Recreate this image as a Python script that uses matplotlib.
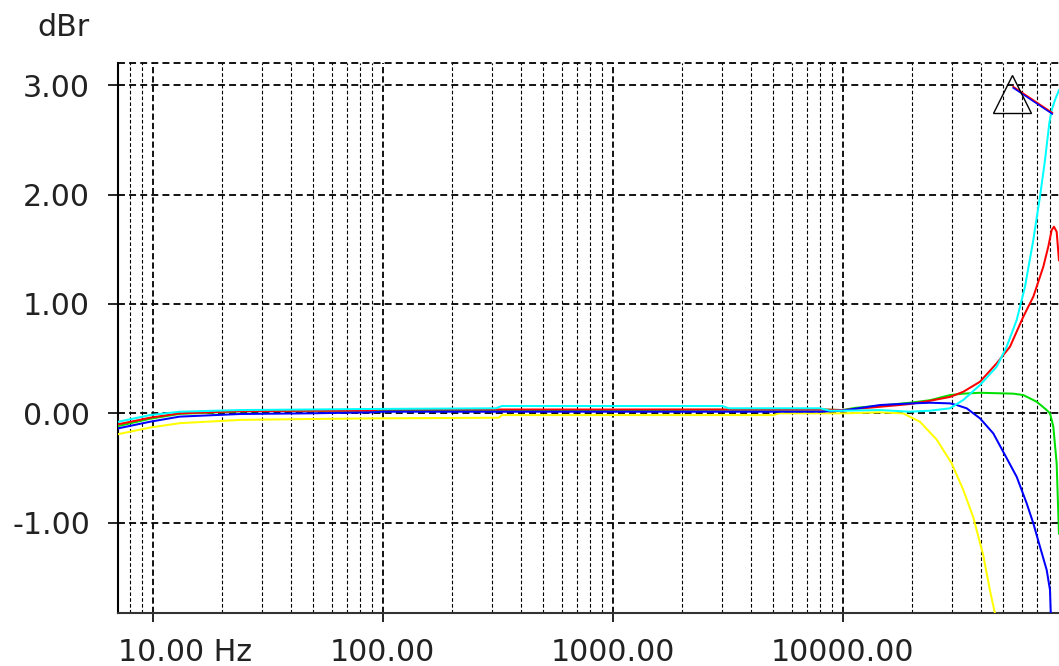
import numpy as np
import matplotlib
matplotlib.use("Agg")
import matplotlib.pyplot as plt
from matplotlib.ticker import FixedLocator, NullFormatter

plt.rcParams['font.family'] = ['DejaVu Sans']
plt.rcParams['lines.scale_dashes'] = False

# Frequency response curves (Hz, dBr)
cyan_f = [7.09, 9.73, 13.1, 24, 48, 90, 310, 330, 3000, 3200, 8000, 8800, 10000,
          14530, 19620, 23970, 29270, 33440, 39540, 46720, 51640, 57080, 62030,
          67420, 72070, 75790, 79110, 81030, 83750, 87170]
cyan_v = [-0.077, -0.016, 0.015, 0.03, 0.035, 0.04, 0.046, 0.067, 0.067, 0.046, 0.046,
          0.024, 0.024, 0.03, 0.015, 0.024, 0.046, 0.122, 0.259, 0.426, 0.609, 0.853,
          1.157, 1.584, 1.98, 2.315, 2.651, 2.772, 2.864, 2.955]

red_f = [7.09, 9.73, 13.1, 24, 48, 90, 95, 8000, 10000, 14530, 19620, 23970, 29270,
         33440, 39540, 46720, 53380, 60990, 67420, 74520, 78320, 81030, 82920,
         85180, 87170]
red_v = [-0.10, -0.04, 0.0, 0.02, 0.024, 0.024, 0.035, 0.035, 0.03, 0.06, 0.085, 0.115,
         0.15, 0.197, 0.289, 0.457, 0.609, 0.883, 1.066, 1.34, 1.523, 1.675, 1.706,
         1.66, 1.40]

blue_f = [7.09, 9.73, 13.1, 24, 48, 90, 100, 8000, 10000, 14530, 19620, 23970, 29270,
          31300, 34600, 39540, 45160, 50780, 57080, 63100, 67420, 72070, 77090,
          79680, 80500]
blue_v = [-0.137, -0.077, -0.03, -0.006, 0.0, 0.009, 0.015, 0.015, 0.025, 0.076, 0.09,
          0.097, 0.091, 0.076, 0.046, -0.046, -0.183, -0.381, -0.58, -0.823, -1.005,
          -1.219, -1.432, -1.615, -1.9]

green_f = [7.09, 9.73, 13.1, 24, 48, 90, 8000, 10000, 11310, 14530, 19620, 23970,
           29270, 33440, 39540, 55170, 60990, 69750, 77090, 79680, 82360, 85180, 87170]
green_v = [-0.116, -0.05, -0.005, 0.018, 0.024, 0.024, 0.035, 0.03, 0.05, 0.07, 0.097,
           0.12, 0.167, 0.18, 0.188, 0.18, 0.167, 0.106, 0.03, 0.0, -0.12, -0.457, -1.1]

yellow_f = [7.09, 9.73, 13.1, 24, 48, 90, 320, 330, 5000, 5300, 10000, 14530, 18290,
            21680, 25630, 29780, 33440, 36970, 40870, 43700, 45940, 47000]
yellow_v = [-0.19, -0.13, -0.09, -0.06, -0.052, -0.046, -0.04, -0.016, -0.016, 0.0, 0.0,
            0.009, 0.0, -0.077, -0.24, -0.457, -0.70, -0.95, -1.30, -1.62, -1.83, -1.95]

# Off-scale segment and its marker
seg_f = [55170, 81520]
seg_red_v = [2.985, 2.747]
seg_blue_v = [2.975, 2.737]
marker_f = [54300]
marker_v = [2.92]

x_ticks = [10, 100, 1000, 10000]
x_tick_labels = ["", "100.00", "1000.00", "10000.00"]
first_x_label = "10.00 Hz"
y_ticks = [-1, 0, 1, 2, 3]
y_tick_labels = ["-1.00", "0.00", "1.00", "2.00", "3.00"]
y_unit = "dBr"

xmin, xmax = 7.09, 87200
ymin, ymax = -1.828, 3.2

W, H = 1059, 666
fig = plt.figure(figsize=(W / 100, H / 100), dpi=100)
ax = fig.add_axes([118.3 / W, 52.7 / H, 1 - 118.3 / W, 550.0 / H])
ax.set_xscale('log')
ax.set_xlim(xmin, xmax)
ax.set_ylim(ymin, ymax)

# grid
minor_x = [m * 10 ** d for d in range(0, 5) for m in range(2, 10)]
minor_x = [v for v in minor_x if xmin < v < xmax]
for v in minor_x:
    ax.axvline(v, color='black', lw=0.8, dashes=(2.6, 1.6), zorder=1)
for v in x_ticks:
    ax.axvline(v, color='black', lw=1.3, dashes=(4.5, 2.2), zorder=1)
for v in y_ticks:
    ax.axhline(v, color='black', lw=1.3, dashes=(5.0, 3.0), zorder=1)
ax.axhline(ymax, color='black', lw=1.3, dashes=(5.0, 3.0), zorder=1, clip_on=False)

lw = 1.45
ax.plot(yellow_f, yellow_v, color='#ffff00', lw=lw, zorder=3)
ax.plot(green_f, green_v, color='#00e000', lw=lw, zorder=3)
ax.plot(red_f, red_v, color='#ff0000', lw=lw, zorder=3)
ax.plot(blue_f, blue_v, color='#0000ff', lw=lw, zorder=3)
ax.plot(cyan_f, cyan_v, color='#00ffff', lw=lw, zorder=3)

ax.plot(seg_f, seg_red_v, color='#ff0000', lw=1.3, zorder=4)
ax.plot(seg_f, seg_blue_v, color='#0000ff', lw=1.1, zorder=4)
ax.plot(marker_f, marker_v, marker='^', markersize=27, markerfacecolor='none',
        markeredgecolor='black', markeredgewidth=1.0, linestyle='none', zorder=5)

for s in ['top', 'right']:
    ax.spines[s].set_visible(False)
ax.spines['left'].set_linewidth(1.5)
ax.spines['bottom'].set_linewidth(1.5)
ax.spines['bottom'].set_color('#333333')

ax.xaxis.set_major_locator(FixedLocator(x_ticks))
ax.xaxis.set_minor_locator(FixedLocator([]))
ax.xaxis.set_minor_formatter(NullFormatter())
ax.set_xticklabels(x_tick_labels)
ax.set_yticks(y_ticks)
ax.set_yticklabels(y_tick_labels)
ax.tick_params(axis='x', which='major', direction='out', length=6.5, width=1.2,
               pad=11.5, labelsize=21.6, colors='black')
ax.tick_params(axis='y', which='major', direction='out', length=7.2, width=1.2,
               pad=13.2, labelsize=21.6, colors='black')
for lab in ax.get_xticklabels() + ax.get_yticklabels():
    lab.set_color('#222222')

ax.annotate(first_x_label, xy=(xmin, 0), xycoords=('data', 'axes fraction'),
            xytext=(0, -(6.5 + 11.5)), textcoords='offset points',
            ha='left', va='top', fontsize=21.6, color='#222222', annotation_clip=False)

fig.text(90 / W, 1 - 27 / H, y_unit, ha='right', va='center', fontsize=21.6,
         color='#222222')

fig.savefig('out.png', dpi=100)
